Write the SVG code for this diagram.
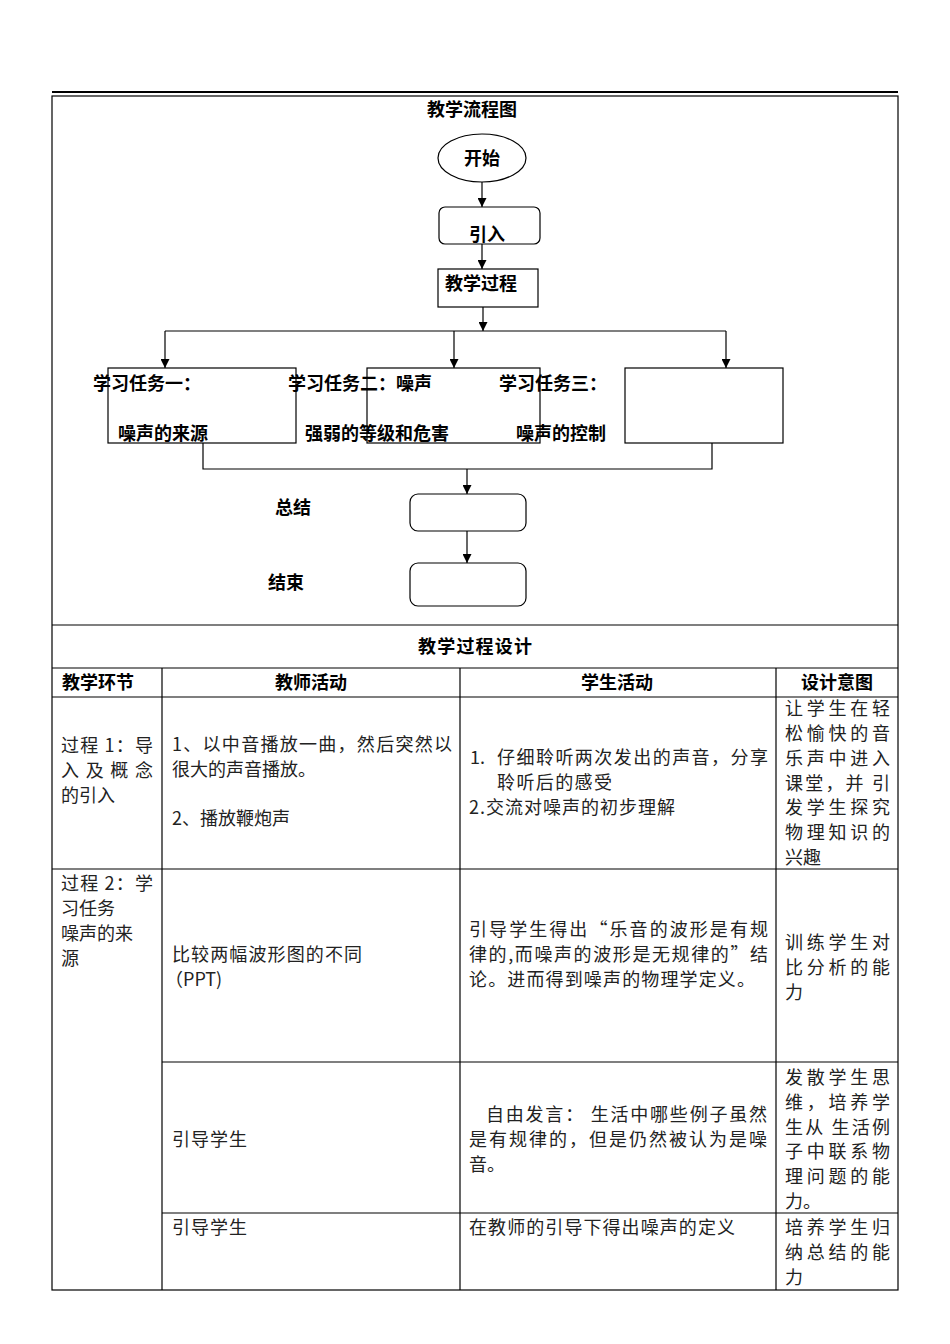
<svg xmlns="http://www.w3.org/2000/svg" width="950" height="1344" viewBox="0 0 950 1344">
<style>
.b{font-family:"Noto Sans CJK SC","Liberation Sans",sans-serif;font-weight:bold;font-size:18px;fill:#000}
.h{font-family:"Noto Sans CJK SC","Liberation Sans",sans-serif;font-weight:bold;font-size:18px;fill:#000;text-anchor:middle}
.t{font-family:"Noto Sans CJK SC","Liberation Sans",sans-serif;font-size:18px;fill:#222}
.s{font-family:"Noto Sans CJK SC","Liberation Sans",sans-serif;font-size:18px;fill:#222}
.box{fill:#fff;stroke:#000;stroke-width:1.2}
.grid{stroke:#000;stroke-width:1.2;fill:none}
.con{stroke:#000;stroke-width:1.2;fill:none}
</style>
<defs>
<marker id="ah" viewBox="0 0 10 10" refX="10" refY="5" markerWidth="9" markerHeight="9" markerUnits="userSpaceOnUse" orient="auto">
<path d="M0,0 L10,5 L0,10 z" fill="#000"/>
</marker>
</defs>
<rect width="950" height="1344" fill="#fff"/>
<g id="table">
<line x1="52" y1="92" x2="898" y2="92" stroke="#000" stroke-width="2"/>
<rect x="52" y="96" width="846" height="1194" class="grid"/>
<line x1="52" y1="625" x2="898" y2="625" class="grid"/>
<line x1="52" y1="668" x2="898" y2="668" class="grid"/>
<line x1="52" y1="697" x2="898" y2="697" class="grid"/>
<line x1="52" y1="869" x2="898" y2="869" class="grid"/>
<line x1="162" y1="1062" x2="898" y2="1062" class="grid"/>
<line x1="162" y1="1213" x2="898" y2="1213" class="grid"/>
<line x1="162" y1="668" x2="162" y2="1290" class="grid"/>
<line x1="460" y1="668" x2="460" y2="1290" class="grid"/>
<line x1="776" y1="668" x2="776" y2="1290" class="grid"/>
<text class="h" x="472" y="116">教学流程图</text>
<text class="h" x="475" y="653" textLength="114" lengthAdjust="spacing">教学过程设计</text>
<text class="h" x="98" y="689">教学环节</text>
<text class="h" x="311" y="689">教师活动</text>
<text class="h" x="617" y="689">学生活动</text>
<text class="h" x="837" y="689">设计意图</text>
</g>
<g id="row1">
<text class="t" x="61" y="752" textLength="92" lengthAdjust="spacing">过程 1：导</text>
<text class="t" x="61" y="777" textLength="92" lengthAdjust="spacing">入 及 概 念</text>
<text class="t" x="61" y="802">的引入</text>
<text class="t" x="172" y="751" textLength="280" lengthAdjust="spacing">1、以中音播放一曲，然后突然以</text>
<text class="t" x="172" y="776">很大的声音播放。</text>
<text class="t" x="172" y="825">2、播放鞭炮声</text>
<text class="t" x="470" y="764">1.</text>
<text class="t" x="497" y="764" textLength="271" lengthAdjust="spacing">仔细聆听两次发出的声音，分享</text>
<text class="t" x="497" y="789" textLength="115" lengthAdjust="spacing">聆听后的感受</text>
<text class="t" x="469" y="814" textLength="206" lengthAdjust="spacing">2.交流对噪声的初步理解</text>
<text class="t" x="785" y="715" textLength="105" lengthAdjust="spacing">让学生在轻</text>
<text class="t" x="785" y="740" textLength="105" lengthAdjust="spacing">松愉快的音</text>
<text class="t" x="785" y="765" textLength="105" lengthAdjust="spacing">乐声中进入</text>
<text class="t" x="785" y="790" textLength="105" lengthAdjust="spacing">课堂，并 引</text>
<text class="t" x="785" y="814" textLength="105" lengthAdjust="spacing">发学生探究</text>
<text class="t" x="785" y="839" textLength="105" lengthAdjust="spacing">物理知识的</text>
<text class="t" x="785" y="864">兴趣</text>
</g>
<g id="row2">
<text class="t" x="61" y="890" textLength="92" lengthAdjust="spacing">过程 2：学</text>
<text class="t" x="61" y="915">习任务</text>
<text class="t" x="61" y="940">噪声的来</text>
<text class="t" x="61" y="965">源</text>
<text class="t" x="172" y="961" textLength="190" lengthAdjust="spacing">比较两幅波形图的不同</text>
<text class="t" x="165" y="986">（PPT)</text>
<text class="t" x="469" y="936" textLength="299" lengthAdjust="spacing">引导学生得出“乐音的波形是有规</text>
<text class="t" x="469" y="961" textLength="299" lengthAdjust="spacing">律的,而噪声的波形是无规律的”结</text>
<text class="t" x="469" y="986" textLength="286" lengthAdjust="spacing">论。进而得到噪声的物理学定义。</text>
<text class="t" x="785" y="949" textLength="105" lengthAdjust="spacing">训练学生对</text>
<text class="t" x="785" y="974" textLength="105" lengthAdjust="spacing">比分析的能</text>
<text class="t" x="785" y="999">力</text>
</g>
<g id="row2b">
<text class="s" x="172" y="1146" textLength="75" lengthAdjust="spacing">引导学生</text>
<text class="s" x="486" y="1121" textLength="281" lengthAdjust="spacing">自由发言：  生活中哪些例子虽然</text>
<text class="s" x="469" y="1146" textLength="298" lengthAdjust="spacing">是有规律的，但是仍然被认为是噪</text>
<text class="s" x="469" y="1171">音。</text>
<text class="s" x="785" y="1084" textLength="105" lengthAdjust="spacing">发散学生思</text>
<text class="s" x="785" y="1109" textLength="105" lengthAdjust="spacing">维，培养学</text>
<text class="s" x="785" y="1134" textLength="105" lengthAdjust="spacing">生从 生活例</text>
<text class="s" x="785" y="1158" textLength="105" lengthAdjust="spacing">子中联系物</text>
<text class="s" x="785" y="1183" textLength="105" lengthAdjust="spacing">理问题的能</text>
<text class="s" x="785" y="1208">力。</text>
</g>
<g id="row2c">
<text class="s" x="172" y="1234" textLength="75" lengthAdjust="spacing">引导学生</text>
<text class="s" x="469" y="1234" textLength="266" lengthAdjust="spacing">在教师的引导下得出噪声的定义</text>
<text class="s" x="785" y="1234" textLength="105" lengthAdjust="spacing">培养学生归</text>
<text class="s" x="785" y="1259" textLength="105" lengthAdjust="spacing">纳总结的能</text>
<text class="s" x="785" y="1284">力</text>
</g>
<g id="connectors">
<path class="con" d="M482,182 V207" marker-end="url(#ah)"/>
<path class="con" d="M482,244 V269" marker-end="url(#ah)"/>
<path class="con" d="M483,307 V331" marker-end="url(#ah)"/>
<path class="con" d="M165,331 H726"/>
<path class="con" d="M165,331 V368" marker-end="url(#ah)"/>
<path class="con" d="M454,331 V368" marker-end="url(#ah)"/>
<path class="con" d="M726,331 V368" marker-end="url(#ah)"/>
<path class="con" d="M203,443 V469 H712 V443"/>
<path class="con" d="M467,469 V494" marker-end="url(#ah)"/>
<path class="con" d="M467,526 V563" marker-end="url(#ah)"/>
</g>
<g id="start">
<ellipse cx="482" cy="158" rx="44" ry="24" class="box"/>
<text class="b" x="482" y="165" text-anchor="middle">开始</text>
</g>
<g id="intro">
<rect x="439" y="207" width="101" height="37" rx="6" class="box"/>
<text class="b" x="487" y="241" text-anchor="middle">引入</text>
</g>
<g id="process">
<rect x="438" y="269" width="100" height="38" class="box"/>
<text class="b" x="445" y="290">教学过程</text>
</g>
<g id="task1">
<rect x="108" y="368" width="188" height="75" class="box"/>
<text class="b" x="93" y="390">学习任务一：</text>
<text class="b" x="118" y="440">噪声的来源</text>
</g>
<g id="task2">
<rect x="367" y="368" width="173" height="75" class="box"/>
<text class="b" x="288" y="390">学习任务二：噪声</text>
<text class="b" x="305" y="440">强弱的等级和危害</text>
</g>
<g id="task3">
<rect x="625" y="368" width="158" height="75" class="box"/>
<text class="b" x="499" y="390">学习任务三：</text>
<text class="b" x="516" y="440">噪声的控制</text>
</g>
<g id="summary">
<rect x="410" y="494" width="116" height="37" rx="8" class="box"/>
<text class="b" x="275" y="514">总结</text>
</g>
<g id="end">
<rect x="410" y="563" width="116" height="43" rx="8" class="box"/>
<text class="b" x="268" y="589">结束</text>
</g>
</svg>
